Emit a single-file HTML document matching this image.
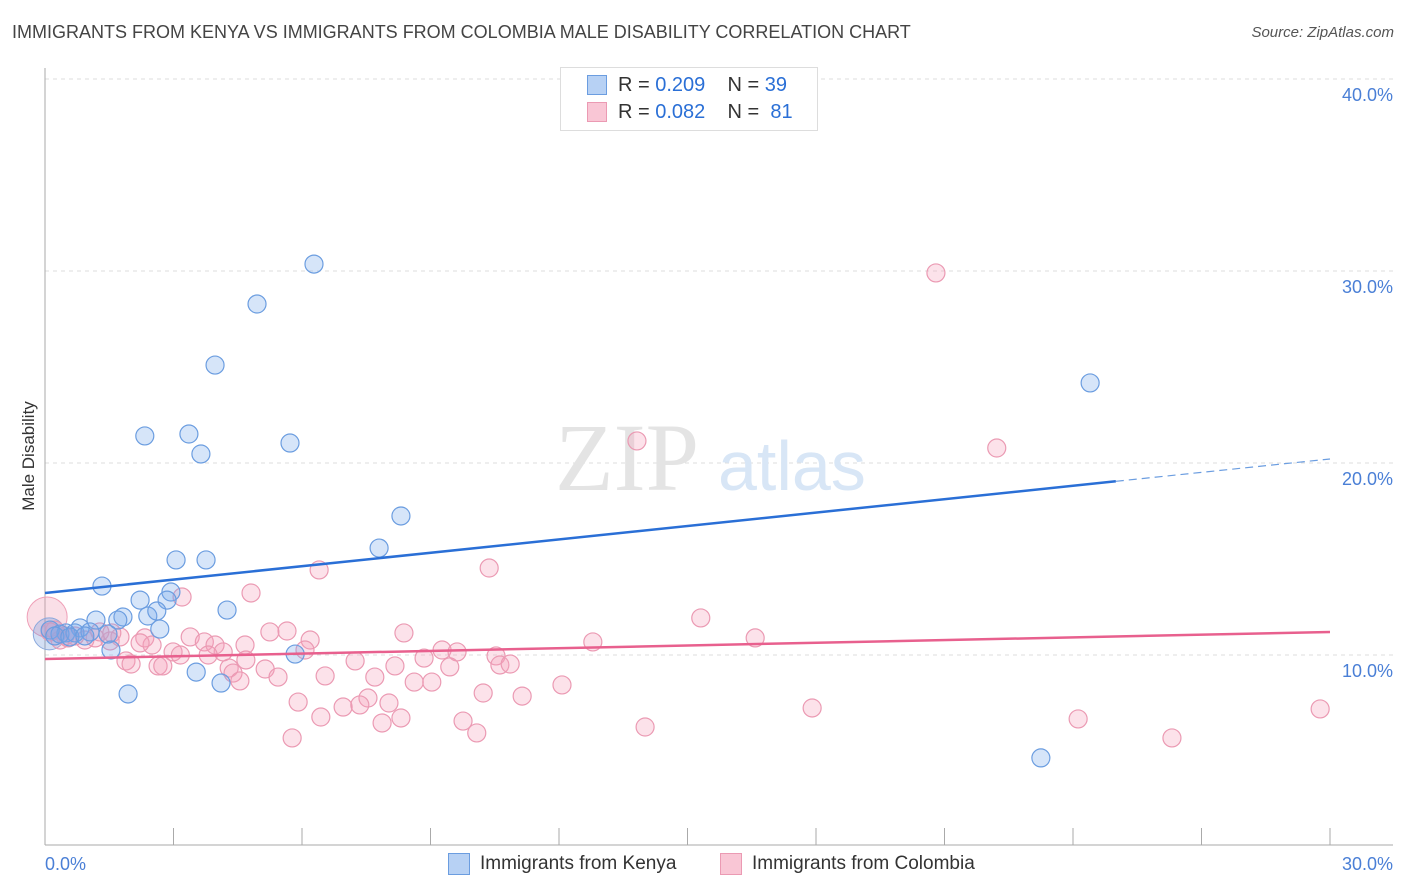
<!DOCTYPE html>
<html><head><meta charset="utf-8"><style>
body{margin:0;background:#fff;font-family:"Liberation Sans",sans-serif;}
#w{position:relative;width:1406px;height:892px;overflow:hidden}
.t{position:absolute;white-space:nowrap}
</style></head><body><div id="w">
<div class="t" style="left:12px;top:22px;font-size:18px;color:#444">IMMIGRANTS FROM KENYA VS IMMIGRANTS FROM COLOMBIA MALE DISABILITY CORRELATION CHART</div>
<div class="t" style="right:12px;top:24px;font-size:15px;color:#555;font-style:italic">Source: ZipAtlas.com</div>
<svg id="s" width="1406" height="892" style="position:absolute;left:0;top:0"></svg>
</div>
<script>
const blueX=[6.28,4.95,3.97,2.33,3.36,3.64,5.72,8.31,7.80,3.06,3.76,1.33,2.22,2.94,2.85,1.82,1.19,2.40,2.61,4.25,2.68,1.70,0.82,0.49,0.12,0.35,0.70,1.05,1.47,1.54,5.84,3.53,4.11,1.94,24.40,23.25,0.23,0.58,0.93];
const blueY=[30.36,28.28,25.10,21.41,21.51,20.47,21.04,17.24,15.57,14.95,14.95,13.59,12.86,13.28,12.86,11.98,11.82,12.03,12.29,12.34,11.35,11.82,11.41,11.15,11.30,11.09,11.15,11.20,11.09,10.26,10.05,9.11,8.54,7.97,24.17,4.64,10.99,10.94,10.99];
const pinkX=[20.80,13.82,22.22,6.40,10.37,4.81,3.20,15.31,8.38,16.58,12.79,5.25,5.65,6.19,3.39,3.72,3.97,2.33,2.50,1.75,2.22,4.67,6.07,4.16,3.81,2.99,3.16,9.27,9.62,10.53,8.85,4.69,7.24,1.89,2.01,2.64,2.75,4.30,5.14,8.17,9.45,10.62,10.86,4.39,5.44,6.54,7.70,8.62,9.03,4.55,12.07,7.54,8.03,10.23,11.14,5.91,6.96,7.35,6.44,7.87,8.31,9.76,10.08,14.01,17.91,24.12,29.77,26.31,5.77,0.23,0.47,0.93,1.17,0.35,1.52,0.70,1.28,0.12,0.54,1.56];
const pinkY=[29.90,21.15,20.78,14.43,14.53,13.23,13.02,11.93,11.15,10.89,10.68,11.20,11.25,10.78,10.94,10.68,10.52,10.89,10.52,10.94,10.63,10.52,10.26,10.16,10.00,10.16,10.00,10.26,10.16,9.95,9.84,9.74,9.69,9.69,9.53,9.43,9.43,9.32,9.27,9.43,9.38,9.48,9.53,9.06,8.85,8.91,8.85,8.59,8.59,8.65,8.44,7.76,7.50,8.02,7.86,7.55,7.29,7.40,6.77,6.46,6.72,6.56,5.94,6.25,7.24,6.67,7.19,5.68,5.68,11.30,10.99,10.78,10.89,10.78,10.73,10.99,11.20,11.20,10.89,11.15];
const bigX=[0.05,0.1],bigY=[11.98,11.1],bigC=['p','b'];
const blueTrend=[13.23,20.21], pinkTrend=[9.79,11.20];
const yTicks=[10,20,30,40], yLabels=['10.0%','20.0%','30.0%','40.0%'];
const xTicks=[0,30], xLabels=['0.0%','30.0%'];
const X=v=>45+v*1285/30, Y=v=>847-v*19.2;
const s=document.getElementById('s'),NS='http://www.w3.org/2000/svg';
function el(t,a,p){const e=document.createElementNS(NS,t);for(const k in a)e.setAttribute(k,a[k]);(p||s).appendChild(e);return e;}
yTicks.forEach((v,i)=>{
 const g=el('line',{x1:45,x2:1393,y1:Y(v),y2:Y(v),stroke:'#ddd','stroke-dasharray':'4 4'});
 
 
 const t=el('text',{x:1393,y:Y(v)+22,'text-anchor':'end','font-size':18,fill:'#4a7fd6','font-family':'Liberation Sans'});t.textContent=yLabels[i];
 
 
});
let ax=el('line',{x1:45,x2:45,y1:68,y2:845,stroke:'#aaa'});


let bx=el('line',{x1:45,x2:1393,y1:845,y2:845,stroke:'#aaa'});


for(let i=0;i<=10;i++){const tk=el('line',{x1:X(i*3),x2:X(i*3),y1:828,y2:845,stroke:'#aaa'});
 
 }
xTicks.forEach((v,i)=>{const t=el('text',{x:v==0?45:1393,y:870,'text-anchor':v==0?'start':'end','font-size':18,fill:'#4a7fd6','font-family':'Liberation Sans'});t.textContent=xLabels[i];
 
 });
let yt=el('text',{x:34,y:456,transform:'rotate(-90 34 456)','text-anchor':'middle','font-size':17,fill:'#333','font-family':'Liberation Sans'});yt.textContent='Male Disability';


let w1=el('text',{x:555,y:490,'font-size':96,fill:'#e4e4e4','font-family':'Liberation Serif'});w1.textContent='ZIP';


let w2=el('text',{x:718,y:490,'font-size':70,fill:'#d8e6f6','font-family':'Liberation Sans'});w2.textContent='atlas';


bigX.forEach((v,i)=>{const c=el('circle',{cx:X(v),cy:Y(bigY[i]),r:i==0?20:16,fill:bigC[i]=='p'?'rgba(240,150,175,0.3)':'rgba(110,150,220,0.3)',stroke:bigC[i]=='p'?'#efa0b8':'#8aa8dc'});
 
 });
pinkX.forEach((v,i)=>{const c=el('circle',{cx:X(v),cy:Y(pinkY[i]),r:9,fill:'rgba(244,160,185,0.3)',stroke:'#eb9ab3','stroke-width':1.2});
 
 });
blueX.forEach((v,i)=>{const c=el('circle',{cx:X(v),cy:Y(blueY[i]),r:9,fill:'rgba(120,170,235,0.3)',stroke:'#6b9de0','stroke-width':1.2});
 
 });
const bAt=x=>blueTrend[0]+(blueTrend[1]-blueTrend[0])*x/30;
let l1=el('line',{x1:X(0),y1:Y(bAt(0)),x2:X(25),y2:Y(bAt(25)),stroke:'#2a6fd6','stroke-width':2.5});


let l2=el('line',{x1:X(25),y1:Y(bAt(25)),x2:X(30),y2:Y(bAt(30)),stroke:'#6b9de0','stroke-width':1.2,'stroke-dasharray':'8 5'});


let l3=el('line',{x1:X(0),y1:Y(pinkTrend[0]),x2:X(30),y2:Y(pinkTrend[1]),stroke:'#e8608e','stroke-width':2.5});


</script>
<div class="t" style="left:560px;top:67px;width:256px;height:62px;border:1px solid #ddd;background:#fff"></div>
<div class="t" style="left:587px;top:75px;width:18px;height:18px;background:#b7d1f4;border:1px solid #6b9de0"></div>
<div class="t" style="left:618px;top:74px;font-size:20px;color:#333">R = <span style="color:#2a6fd6">0.209</span>&nbsp;&nbsp;&nbsp; N = <span style="color:#2a6fd6">39</span></div>
<div class="t" style="left:587px;top:102px;width:18px;height:18px;background:#f9c6d5;border:1px solid #eb9ab3"></div>
<div class="t" style="left:618px;top:101px;font-size:20px;color:#333">R = <span style="color:#2a6fd6">0.082</span>&nbsp;&nbsp;&nbsp; N = <span style="color:#2a6fd6">&nbsp;81</span></div>
<div class="t" style="left:448px;top:853px;width:20px;height:20px;background:#b7d1f4;border:1px solid #6b9de0"></div>
<div class="t" style="left:480px;top:853px;font-size:19px;color:#333">Immigrants from Kenya</div>
<div class="t" style="left:720px;top:853px;width:20px;height:20px;background:#f9c6d5;border:1px solid #eb9ab3"></div>
<div class="t" style="left:752px;top:853px;font-size:19px;color:#333">Immigrants from Colombia</div>
</body></html>
